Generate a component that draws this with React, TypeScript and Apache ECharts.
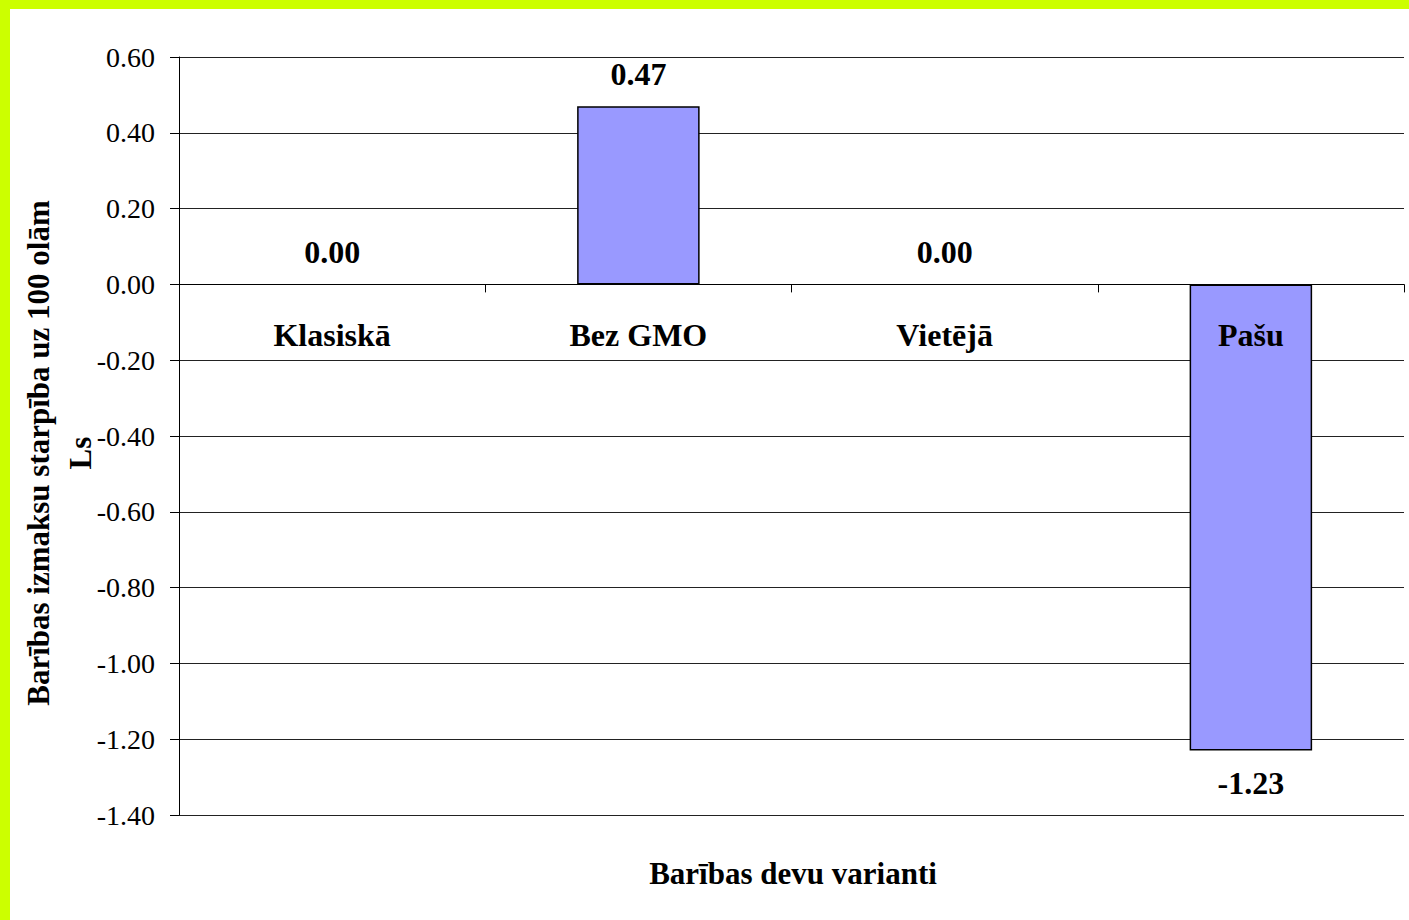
import React, { useEffect, useRef } from "react";
import * as echarts from "echarts";

const categories = ["Klasiskā", "Bez GMO", "Vietējā", "Pašu"];
const values = [0.0, 0.47, 0.0, -1.23];
const yAxisTitle = "Barības izmaksu starpība uz 100 olām\nLs";
const xAxisTitle = "Barības devu varianti";

const FONT = "'Liberation Serif', 'Times New Roman', serif";

export default function App() {
  const ref = useRef<HTMLDivElement>(null);
  useEffect(() => {
    if (!ref.current) return;
    const chart = echarts.init(ref.current, undefined, { renderer: "svg" });
    chart.setOption({
      animation: false,
      backgroundColor: "#ffffff",
      grid: { left: 179, top: 57, right: 5, bottom: 105, containLabel: false },
      xAxis: {
        type: "category",
        data: categories,
        axisLine: { onZero: true, lineStyle: { color: "#000", width: 1 } },
        axisTick: { show: true, length: 8, lineStyle: { color: "#000" } },
        axisLabel: {
          margin: -496,
          fontFamily: FONT,
          fontWeight: "bold",
          fontSize: 32,
          color: "#000",
        },
        splitLine: { show: false },
        z: 5,
      },
      yAxis: {
        type: "value",
        min: -1.4,
        max: 0.6,
        interval: 0.2,
        axisLine: { show: true, lineStyle: { color: "#000", width: 1 } },
        axisTick: { show: true, length: 9, lineStyle: { color: "#000" } },
        axisLabel: {
          margin: 24,
          fontFamily: FONT,
          fontSize: 28,
          color: "#000",
          formatter: (v: number) => v.toFixed(2),
        },
        splitLine: { show: true, lineStyle: { color: "#222", width: 1 } },
      },
      series: [
        {
          type: "bar",
          data: values.map((v) => ({
            value: v,
            label: { position: v < 0 ? "bottom" : "top" },
            itemStyle: v === 0 ? { borderWidth: 0 } : {},
          })),
          barWidth: "40%",
          itemStyle: { color: "#9999FF", borderColor: "#000", borderWidth: 1.5 },
          label: {
            show: true,
            distance: 16,
            fontFamily: FONT,
            fontWeight: "bold",
            fontSize: 32,
            color: "#000",
            formatter: (p: any) => Number(p.value).toFixed(2),
          },
        },
      ],
      graphic: [
        { type: "rect", left: 0, top: 0, shape: { width: 1409, height: 9 }, style: { fill: "#CCFF00" }, silent: true },
        { type: "rect", left: 0, top: 0, shape: { width: 10, height: 920 }, style: { fill: "#CCFF00" }, silent: true },
        {
          type: "text",
          x: 59,
          y: 453,
          rotation: Math.PI / 2,
          style: {
            text: yAxisTitle,
            font: `bold 31px ${FONT}`,
            fill: "#000",
            align: "center",
            verticalAlign: "middle",
            lineHeight: 42,
          },
        },
        {
          type: "text",
          x: 793,
          y: 873,
          style: {
            text: xAxisTitle,
            font: `bold 31px ${FONT}`,
            fill: "#000",
            align: "center",
            verticalAlign: "middle",
          },
        },
      ],
    });
    return () => chart.dispose();
  }, []);
  return (
    <div
      ref={ref}
      style={{ position: "fixed", left: 0, top: 0, width: 1409, height: 920 }}
    />
  );
}
